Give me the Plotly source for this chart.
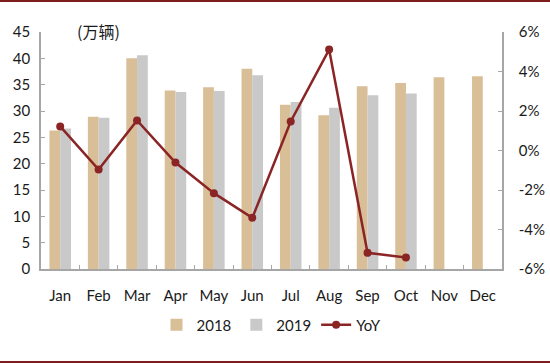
import plotly.graph_objects as go

months = ["Jan", "Feb", "Mar", "Apr", "May", "Jun", "Jul", "Aug", "Sep", "Oct", "Nov", "Dec"]
sales_2018 = [26.3, 28.9, 40.0, 33.9, 34.5, 38.0, 31.2, 29.2, 34.7, 35.3, 36.4, 36.6]
sales_2019 = [26.7, 28.7, 40.6, 33.6, 33.8, 36.8, 31.7, 30.6, 33.0, 33.3, None, None]
yoy_pct = [1.22, -0.96, 1.52, -0.61, -2.16, -3.41, 1.47, 5.11, -5.18, -5.42, None, None]
yoy_ticks = [-6, -4, -2, 0, 2, 4, 6]
yoy_tick_labels = ["-6%", "-4%", "-2%", "0%", "2%", "4%", "6%"]

axis_color = "#A6A6A6"
font_family = "Lato, 'Noto Sans', sans-serif"

fig = go.Figure()
fig.add_trace(go.Bar(x=months, y=sales_2018, name="2018", marker=dict(color="#D9BF98", line=dict(width=0))))
fig.add_trace(go.Bar(x=months, y=sales_2019, name="2019", marker=dict(color="#C9C9C9", line=dict(width=0))))
fig.add_trace(go.Scatter(x=months, y=yoy_pct, name="YoY", yaxis="y2", mode="lines+markers",
                         line=dict(color="#8B2525", width=2.5), marker=dict(color="#8B2525", size=8),
                         connectgaps=False))

W, H = 550, 363
ml, mr, mt, mb = 41, 48, 32, 94
pw, ph = W - ml - mr, H - mt - mb

fig.update_layout(
    width=W, height=H,
    margin=dict(l=ml, r=mr, t=mt, b=mb, autoexpand=False),
    paper_bgcolor="white", plot_bgcolor="white",
    barmode="group", bargap=0.44, bargroupgap=0,
    font=dict(family=font_family, size=14, color="#1a1a1a"),
    showlegend=True,
    legend=dict(orientation="h", x=0.5, xanchor="center", y=(H - mb - 325) / ph, yanchor="middle",
                font=dict(size=15), itemwidth=30, traceorder="normal"),
    xaxis=dict(type="category", range=[-0.5, 11.5], showline=True, linecolor=axis_color, linewidth=1.5,
               ticks="inside", ticklen=4, tickcolor=axis_color, tickson="boundaries",
               showgrid=False, zeroline=False, mirror=False, ticklabelstandoff=12,
               tickangle=0, automargin=False, tickfont=dict(size=15)),
    yaxis=dict(range=[0, 45], dtick=5, showline=True, linecolor=axis_color, linewidth=1.5,
               ticks="inside", ticklen=4, tickcolor=axis_color, showgrid=False, zeroline=False,
               ticklabelstandoff=6, automargin=False, tickfont=dict(size=15)),
    yaxis2=dict(range=[-6, 6], tickvals=yoy_ticks, ticktext=yoy_tick_labels, overlaying="y", side="right",
                showline=True, linecolor=axis_color, linewidth=1.5, ticks="inside", ticklen=4,
                tickcolor=axis_color, showgrid=False, zeroline=False, ticklabelstandoff=12,
                automargin=False, tickfont=dict(size=15)),
    annotations=[dict(text="(万辆)", xref="paper", yref="paper", x=(75 - ml) / pw, y=(H - mb - 31) / ph,
                      xanchor="left", yanchor="middle", showarrow=False,
                      font=dict(family="'Noto Sans CJK SC', sans-serif", size=16, color="#1a1a1a"))],
    shapes=[
        dict(type="line", xref="paper", yref="paper", x0=-ml / pw, x1=(W - ml) / pw,
             y0=(H - mb - 1) / ph, y1=(H - mb - 1) / ph, line=dict(color="#7F1D1D", width=2)),
        dict(type="line", xref="paper", yref="paper", x0=-ml / pw, x1=(W - ml) / pw,
             y0=(H - mb - 362) / ph, y1=(H - mb - 362) / ph, line=dict(color="#7F1D1D", width=2)),
    ],
)

fig.write_html("out.html", config={"displayModeBar": False},
               post_script="document.body.style.margin='0';")
